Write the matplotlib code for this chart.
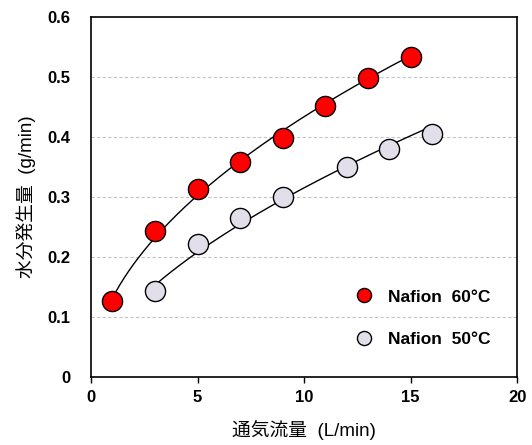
import numpy as np
import matplotlib
matplotlib.use("Agg")
import matplotlib.pyplot as plt

plt.rcParams['font.family'] = ['Liberation Sans', 'Noto Sans CJK JP', 'DejaVu Sans']

x60 = [1, 3, 5, 7, 9, 11, 13, 15]
y60 = [0.127, 0.243, 0.313, 0.358, 0.398, 0.452, 0.499, 0.533]
x50 = [3, 5, 7, 9, 12, 14, 16]
y50 = [0.143, 0.222, 0.265, 0.300, 0.350, 0.380, 0.405]
xticks = [0, 5, 10, 15, 20]
yticks = [0, 0.1, 0.2, 0.3, 0.4, 0.5, 0.6]
ytick_labels = ['0', '0.1', '0.2', '0.3', '0.4', '0.5', '0.6']

fig = plt.figure(figsize=(5.32, 4.45), dpi=100)
ax = fig.add_axes([0.171, 0.1528, 0.801, 0.809])

def power_fit(xs, ys):
    b, lna = np.polyfit(np.log(xs), np.log(ys), 1)
    xx = np.linspace(min(xs), max(xs), 200)
    return xx, np.exp(lna) * xx ** b

for xs, ys in [(x60, y60), (x50, y50)]:
    xx, yy = power_fit(xs, ys)
    ax.plot(xx, yy, color='black', lw=1.0, zorder=2)

ax.plot(x60, y60, 'o', ms=14.5, mfc='#FF0000', mec='black', mew=1.0, zorder=3, label='Nafion  60°C')
ax.plot(x50, y50, 'o', ms=14.5, mfc='#E2DFEA', mec='black', mew=1.0, zorder=3, label='Nafion  50°C')

for y in yticks[1:-1]:
    ax.axhline(y, color='#C4C4C4', lw=0.8, ls=(0, (3, 2)), zorder=1)

ax.set_xlim(0, 20)
ax.set_ylim(0, 0.6)
ax.set_xticks(xticks)
ax.set_yticks(yticks)
ax.set_yticklabels(ytick_labels)
ax.tick_params(axis='x', direction='out', length=4, width=1, pad=5, labelsize=12)
ax.tick_params(axis='y', length=0, pad=15, labelsize=12)
for lbl in ax.get_xticklabels() + ax.get_yticklabels():
    lbl.set_fontweight('bold')
for s in ax.spines.values():
    s.set_linewidth(1.2)

ax.set_xlabel('通気流量  (L/min)', fontsize=13.5, labelpad=11)
ax.set_ylabel('水分発生量  (g/min)', fontsize=13.5, labelpad=8)

leg = ax.legend(loc='lower right', bbox_to_anchor=(0.975, 0.041), frameon=False,
                markerscale=0.7, handlelength=1.0, handletextpad=0.9,
                labelspacing=1.55, prop={'weight': 'bold', 'size': 12.5})

fig.savefig('out.png', dpi=100)
